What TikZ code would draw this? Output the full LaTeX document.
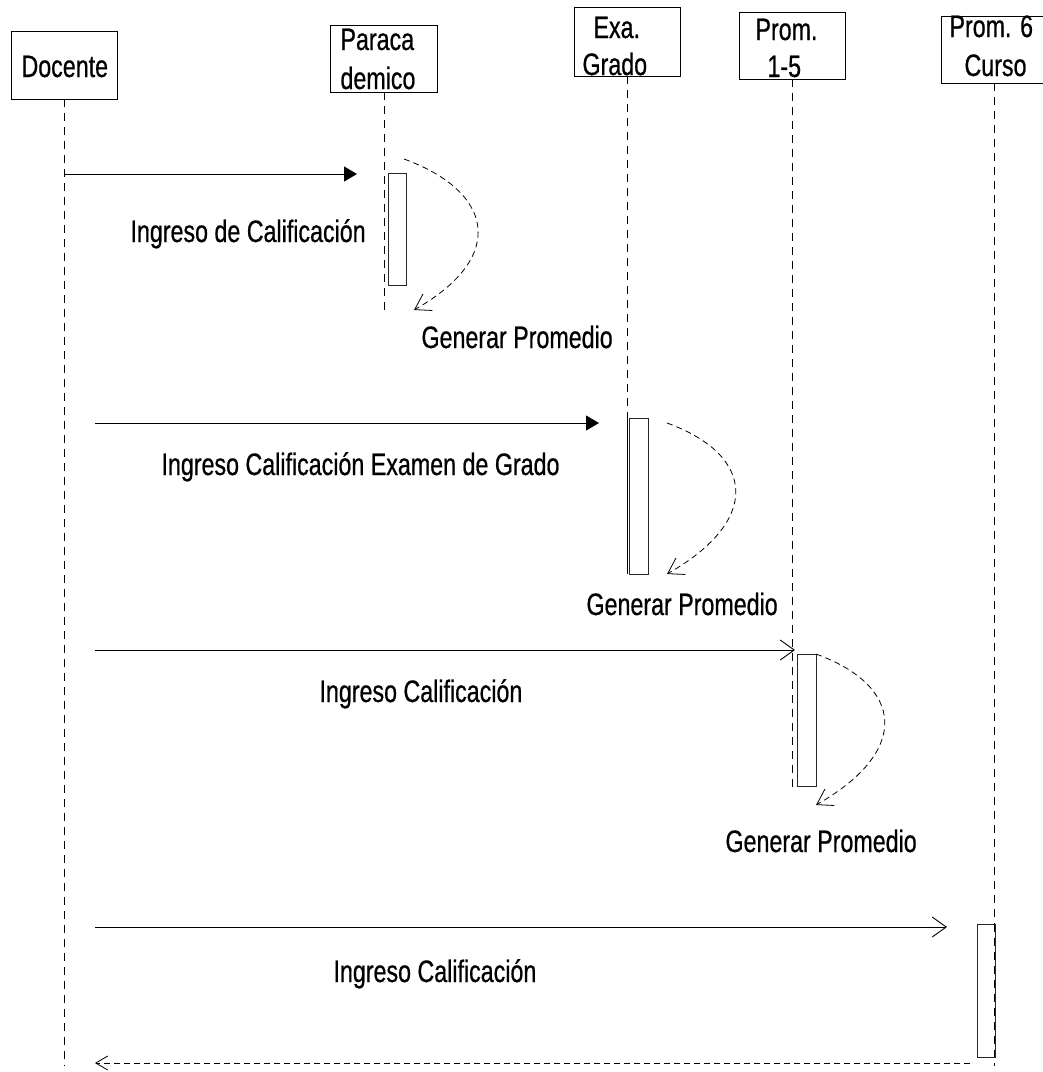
\documentclass[tikz,border=0pt]{standalone}
\usepackage{fontspec}
\setmainfont{Liberation Sans}[FakeStretch=0.75,FakeBold=0.6]
\usetikzlibrary{arrows.meta}
\begin{document}
\begin{tikzpicture}[x=1pt,y=-1pt,
  every node/.style={font=\fontsize{31}{36}\selectfont},
  actor/.style={draw,line width=0.9pt,rectangle,inner sep=0pt},
  txt/.style={anchor=base west,inner sep=0pt,outer sep=0pt},
  lifeline/.style={line width=0.8pt,dash pattern=on 8pt off 6pt},
  activation/.style={draw,line width=0.9pt,black!85,fill=white,rectangle,inner sep=0pt,minimum width=18pt},
  callsolid/.style={line width=1pt,-{Triangle[length=13pt,width=15pt]}},
  callopen/.style={line width=0.9pt,-{Straight Barb[length=14pt,width=20pt,line width=0.9pt]}},
  selfcall/.style={line width=0.8pt,dash pattern=on 6pt off 4pt,-{Straight Barb[length=15pt,width=19pt,line width=0.8pt]}},
  reply/.style={line width=0.8pt,dash pattern=on 6pt off 4pt,-{Straight Barb[length=12pt,width=14pt,line width=0.8pt]}}]

% page area
\fill[white] (0,0) rectangle (1043,1072);
\useasboundingbox (0,0) rectangle (1043,1072);

% participant boxes
\node[actor,minimum width=106pt,minimum height=68pt] (doc) at (64,65) {};
\node[actor,minimum width=107pt,minimum height=67pt] (par) at (383.5,58.5) {};
\node[actor,minimum width=106pt,minimum height=69pt] (exa) at (627,41.5) {};
\node[actor,minimum width=106pt,minimum height=67pt] (p15) at (792,45.5) {};
\node[actor,minimum width=107pt,minimum height=67pt] (p6) at (994.5,49.5) {};

% participant names
\node[txt] (tdoc) at (21.5,77) {Docente};
\node[txt] (tpar1) at (340.5,50) {Paraca};
\node[txt] (tpar2) at (340.5,89) {demico};
\node[txt] (texa1) at (593.5,38) {Exa.};
\node[txt] (texa2) at (582.5,75) {Grado};
\node[txt] (tp151) at (755.5,40) {Prom.};
\node[txt] (tp152) at (767.5,77) {1-5};
\node[txt] (tp61) at (949.5,37) {Prom. 6};
\node[txt] (tp62) at (964.5,76) {Curso};

% lifeline ends
\coordinate (docEnd) at (64,1066);
\coordinate (parEnd) at (384,310);
\coordinate (exaEnd) at (627,576);
\coordinate (p15End) at (792,790);
\coordinate (p6End) at (994,1066);

% lifelines
\draw[lifeline] (doc.south) -- (docEnd);
\draw[lifeline] (par.south -| parEnd) -- (parEnd);
\draw[lifeline] (exa.south) -- (exaEnd);
\draw[lifeline] (p15.south) -- (p15End);
\draw[lifeline] (p6.south -| p6End) -- (p6End);

% activation bars
\node[activation,minimum height=112pt] (act1) at (397,229) {};
\node[activation,minimum width=19pt,minimum height=156pt] (act2) at (638.5,496) {};
\node[activation,minimum width=19pt,minimum height=132pt] (act3) at (806.5,720) {};
\node[activation,minimum height=133pt] (act4) at (986,990.5) {};
\draw[lifeline] (627,418) -- (627,574);
\draw[lifeline] (994,924) -- (994,1057);

% message end points
\coordinate (m1s) at (65,174);
\coordinate (m1e) at (357,174);
\coordinate (m2s) at (95,423);
\coordinate (m2e) at (599,423);
\coordinate (m3s) at (95,650);
\coordinate (m3e) at (795,650);
\coordinate (m4s) at (95,927);
\coordinate (m4e) at (947,927);
\coordinate (m5s) at (970,1063);
\coordinate (m5e) at (95,1063);

% calls from Docente
\draw[callsolid] (m1s) -- (m1e);
\draw[callsolid] (m2s) -- (m2e);
\draw[callopen] (m3s) -- (m3e);
\draw[callopen] (m4s) -- (m4e);
\draw[reply] (m5s) -- (m5e);

% self calls (Generar Promedio)
\coordinate (s1s) at (404,159);
\coordinate (s1e) at (414,310);
\coordinate (s2s) at (667,423);
\coordinate (s2e) at (667,574);
\coordinate (s3s) at (816,654);
\coordinate (s3e) at (816,805);
\draw[selfcall] (s1s) .. controls (492,191) and (509,256) .. (s1e);
\draw[selfcall] (s2s) .. controls (755,455) and (762,520) .. (s2e);
\draw[selfcall] (s3s) .. controls (904,686) and (911,751) .. (s3e);

% message labels
\node[txt] (l1) at (130.5,242) {Ingreso de Calificación};
\node[txt] (l2) at (421.5,348) {Generar Promedio};
\node[txt] (l3) at (161.5,475) {Ingreso Calificación Examen de Grado};
\node[txt] (l4) at (586.5,615) {Generar Promedio};
\node[txt] (l5) at (319.5,702) {Ingreso Calificación};
\node[txt] (l6) at (725.5,852) {Generar Promedio};
\node[txt] (l7) at (333.5,982) {Ingreso Calificación};
\end{tikzpicture}
\end{document}
